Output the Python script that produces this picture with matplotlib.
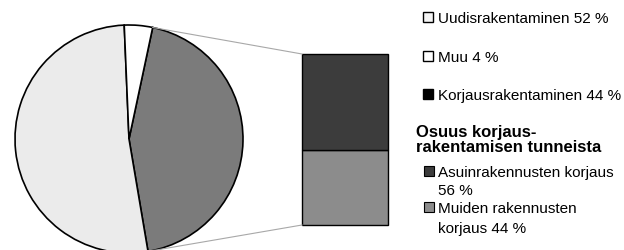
import numpy as np
import matplotlib
matplotlib.use("Agg")
import matplotlib.pyplot as plt
from matplotlib.patches import Rectangle

plt.rcParams["font.family"] = ["Liberation Sans", "DejaVu Sans"]

# pie: share of total working hours
pie_labels = ["Korjausrakentaminen 44 %", "Uudisrakentaminen 52 %", "Muu 4 %"]
pie_values = [44, 52, 4]
pie_colors = ["#7b7b7b", "#ebebeb", "#ffffff"]

# bar: split of the repair share
bar_labels = ["Muiden rakennusten\nkorjaus 44 %", "Asuinrakennusten korjaus\n56 %"]
bar_values = [44, 56]
bar_colors = ["#8c8c8c", "#3c3c3c"]

title = "Osuus korjaus-\nrakentamisen tunneista"

W, H = 624, 251
fig = plt.figure(figsize=(W / 100, H / 100), dpi=100)
ax = fig.add_axes([0, 0, 1, 1])

def Y(y):
    return H - y

cx, cy, r = 129, Y(140), 114
start = 78
wedges, _ = ax.pie(pie_values, colors=pie_colors, startangle=start,
                   counterclock=False, center=(cx, cy), radius=r,
                   wedgeprops=dict(edgecolor="black", linewidth=1.2))

# stacked bar
bx, bw, bbot, scale = 345, 86, Y(226), 1.71
bottom = bbot
for v, c in zip(bar_values, bar_colors):
    ax.bar(bx, v * scale, width=bw, bottom=bottom, color=c,
           edgecolor="black", linewidth=1.0)
    bottom += v * scale
btop = bottom

# connector lines from the repair wedge to the bar
a1 = np.radians(start)
a2 = np.radians(start - pie_values[0] / 100 * 360)
ax.plot([cx + r * np.cos(a1), bx - bw / 2], [cy + r * np.sin(a1), btop],
        color="#a8a8a8", lw=0.8)
ax.plot([cx + r * np.cos(a2), bx - bw / 2], [cy + r * np.sin(a2), bbot],
        color="#a8a8a8", lw=0.8)

# legend drawn by hand
fs = 11
mx, tx = 423, 438
legend_top = [("Uudisrakentaminen 52 %", "#f4f4f4", 23),
              ("Muu 4 %", "#ffffff", 62),
              ("Korjausrakentaminen 44 %", "#000000", 100)]
for text, c, base in legend_top:
    ax.add_patch(Rectangle((mx, Y(base) + 0.5), 10, 10, facecolor=c,
                           edgecolor="black", linewidth=1.0))
    ax.text(tx, Y(base), text, fontsize=fs, va="baseline", ha="left")

t1, t2 = title.split("\n")
ax.text(416, Y(137), t1, fontsize=12, fontweight="bold", va="baseline")
ax.text(416, Y(152), t2, fontsize=12, fontweight="bold", va="baseline")

legend_bot = [(bar_labels[1], bar_colors[1], 177, 195),
              (bar_labels[0], bar_colors[0], 213, 233)]
for text, c, b1, b2 in legend_bot:
    l1, l2 = text.split("\n")
    ax.add_patch(Rectangle((mx + 1, Y(b1) + 0.5), 10, 10, facecolor=c,
                           edgecolor="black", linewidth=0.8))
    ax.text(tx, Y(b1), l1, fontsize=fs, va="baseline")
    ax.text(tx, Y(b2), l2, fontsize=fs, va="baseline")

ax.set_xlim(0, W)
ax.set_ylim(0, H)
ax.set_aspect("equal")
ax.axis("off")

fig.savefig("out.png", dpi=100)
